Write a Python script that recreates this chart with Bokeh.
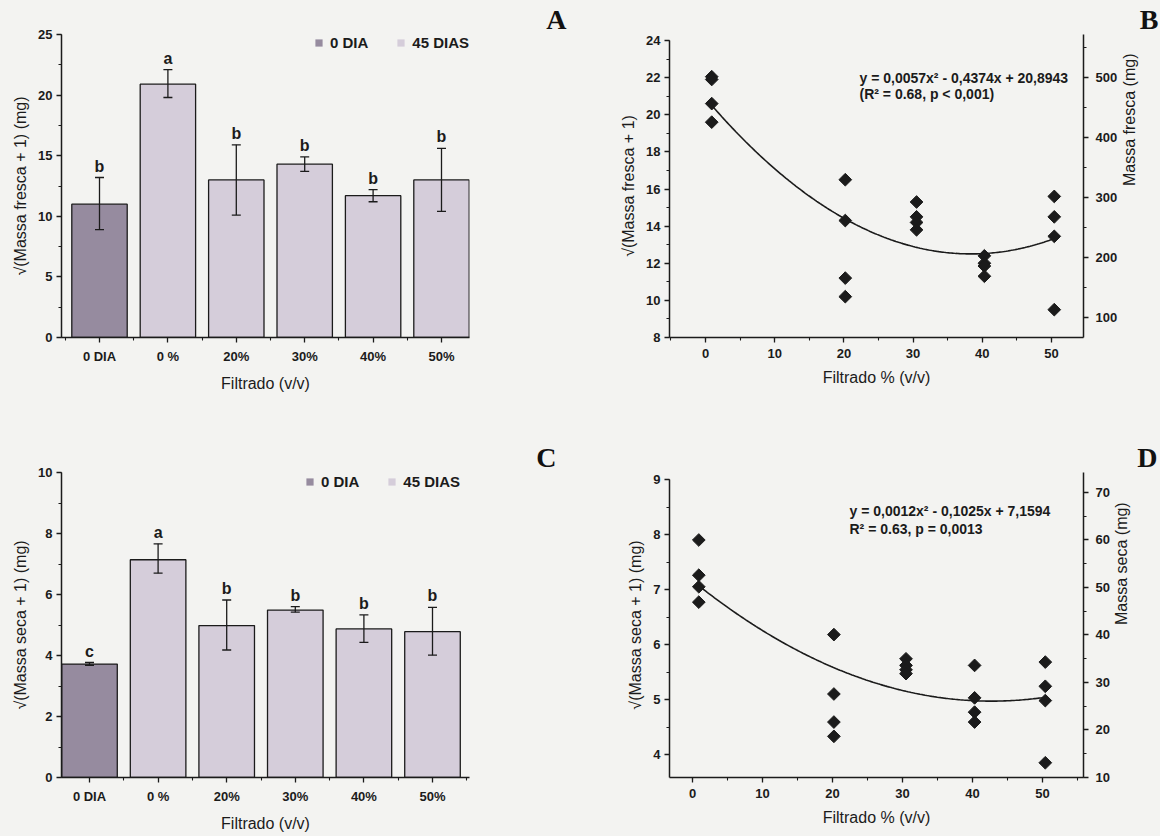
import numpy as np
from bokeh.plotting import figure
from bokeh.layouts import row, column
from bokeh.models import (ColumnDataSource, Range1d, LinearAxis, FixedTicker,
                          SingleIntervalTicker, Whisker, TeeHead, Label, Legend,
                          LegendItem, Title)
from bokeh.core.properties import value
from bokeh.embed import file_html
from bokeh.resources import INLINE

# ---------------- data ----------------
categories = ["0 DIA", "0 %", "20%", "30%", "40%", "50%"]
series_labels = ["0 DIA", "45 DIAS"]

fresh_mean = [11.0, 20.9, 13.0, 14.3, 11.7, 13.0]
fresh_lower = [8.9, 19.8, 10.1, 13.7, 11.2, 10.4]
fresh_upper = [13.2, 22.1, 15.9, 14.9, 12.2, 15.6]
fresh_letters = ["b", "a", "b", "b", "b", "b"]

dry_mean = [3.72, 7.14, 4.98, 5.49, 4.87, 4.78]
dry_lower = [3.68, 6.70, 4.18, 5.42, 4.43, 4.01]
dry_upper = [3.77, 7.66, 5.82, 5.60, 5.33, 5.58]
dry_letters = ["c", "a", "b", "b", "b", "b"]

filtrado_pct = [0.9, 20.2, 30.5, 40.3, 50.4]
fresh_reps = [[22.05, 21.9, 20.6, 19.6],
              [16.5, 14.3, 11.2, 10.2],
              [15.3, 14.5, 14.2, 13.8],
              [12.4, 12.0, 11.85, 11.3],
              [15.6, 14.5, 13.45, 9.5]]
dry_reps = [[7.9, 7.26, 7.05, 6.77],
            [6.18, 5.10, 4.59, 4.33],
            [5.74, 5.62, 5.54, 5.47],
            [5.62, 5.03, 4.77, 4.59],
            [5.68, 5.24, 4.98, 3.85]]
fresh_fit = [0.0057, -0.4374, 20.8943]
dry_fit = [0.0012, -0.1025, 7.1594]
fresh_eq = ["y = 0,0057x\u00b2 - 0,4374x + 20,8943", "(R\u00b2 = 0.68, p < 0,001)"]
dry_eq = ["y = 0,0012x\u00b2 - 0,1025x + 7,1594", "R\u00b2 = 0.63, p = 0,0013"]

# ---------------- style ----------------
FONT = "Liberation Sans"
SERIF = "Liberation Serif"
INK = "#1b1b1b"
BG = "#f3f3f1"
DARK = "#968b9f"
LIGHT = "#d5cdda"

# layout (page pixels): two columns, two rows; borders are shared per row/column
COL_W = (575, 585)
ROW_H = (420, 416)
LEFT_FRAME_X = (61, 469)
RIGHT_FRAME_X = (669, 1083)
TOP_FRAME_Y = (34, 337)
BOT_FRAME_Y = (472, 777)


def style_axis(ax, xside=False):
    ax.axis_line_color = INK
    ax.axis_line_width = 1.5
    ax.major_tick_line_color = INK
    ax.major_tick_line_width = 1.3
    ax.minor_tick_line_color = INK
    ax.minor_tick_line_width = 1.1
    ax.major_tick_out = 5
    ax.major_tick_in = 0
    ax.minor_tick_out = 3
    ax.minor_tick_in = 0
    ax.major_label_text_font = FONT
    ax.major_label_text_font_size = "13px"
    ax.major_label_text_font_style = "bold"
    ax.major_label_text_color = INK
    ax.axis_label_text_font = FONT
    ax.axis_label_text_font_size = "16px"
    ax.axis_label_text_font_style = "normal"
    ax.axis_label_text_color = INK
    ax.major_label_standoff = 6 if xside else 4
    ax.axis_label_standoff = 8 if xside else 6


def span(anchors, lo_px, hi_px):
    (v0, p0), (v1, p1) = anchors
    s = (v1 - v0) / (p1 - p0)
    return v0 + (lo_px - p0) * s, v0 + (hi_px - p0) * s


def make_fig(col, rw, xanch, yanch):
    fx = 0 if col == 0 else COL_W[0]
    fy = 0 if rw == 0 else ROW_H[0]
    w, h = COL_W[col], ROW_H[rw]
    L, R = LEFT_FRAME_X if col == 0 else RIGHT_FRAME_X
    T, B = TOP_FRAME_Y if rw == 0 else BOT_FRAME_Y
    x0, x1 = span(xanch, L, R)
    y0, y1 = span(yanch, B, T)
    p = figure(width=w, height=h, x_range=Range1d(x0, x1), y_range=Range1d(y0, y1),
               title=None, output_backend="svg", toolbar_location=None,
               min_border_left=L - fx, min_border_right=fx + w - R,
               min_border_top=T - fy, min_border_bottom=fy + h - B)
    p.background_fill_color = BG
    p.border_fill_color = BG
    p.outline_line_color = None
    p.xgrid.visible = False
    p.ygrid.visible = False
    p._frame = (L, T, R, B)
    return p


def px_to_data(p, px, py):
    L, T, R, B = p._frame
    xr, yr = p.x_range, p.y_range
    x = xr.start + (px - L) / (R - L) * (xr.end - xr.start)
    y = yr.end - (py - T) / (B - T) * (yr.end - yr.start)
    return x, y


def add_letter(p, letter, right_px):
    p.add_layout(Title(text=letter, align="right", offset=p._frame[2] - right_px,
                       standoff=0, text_font=SERIF, text_font_style="bold",
                       text_font_size="28px", text_color="#111111"), "above")


def bar_panel(means, lowers, uppers, letters, ymax, ystep, ylabel, rw, xanch, yanch,
              letter, letter_right, legend_px):
    xpos = list(range(len(categories)))
    p = make_fig(0, rw, xanch, yanch)
    p.vbar(x=xpos[:1], top=means[:1], width=0.81, fill_color=DARK,
           line_color=INK, line_width=1.3)
    p.vbar(x=xpos[1:], top=means[1:], width=0.81, fill_color=LIGHT,
           line_color=INK, line_width=1.3)
    src = ColumnDataSource(dict(x=xpos, lo=lowers, hi=uppers, lab=letters))
    wh = Whisker(source=src, base="x", upper="hi", lower="lo", line_color=INK,
                 line_width=1.3, level="overlay",
                 upper_head=TeeHead(size=9, line_color=INK, line_width=1.3),
                 lower_head=TeeHead(size=9, line_color=INK, line_width=1.3))
    p.add_layout(wh)
    p.text(x="x", y="hi", text="lab", source=src, text_align="center",
           text_baseline="bottom", y_offset=-3, text_font=value(FONT),
           text_font_style="bold", text_font_size="16px", text_color=INK)

    # legend swatches (renderers placed outside the visible x range)
    off = p.x_range.start - 5
    d0 = p.vbar(x=[off], top=[1], width=0.8, fill_color=DARK, line_color=None)
    d1 = p.vbar(x=[off], top=[1], width=0.8, fill_color=LIGHT, line_color=None)
    L, T, R, B = p._frame
    lx, ly = legend_px
    leg = Legend(items=[LegendItem(label=series_labels[0], renderers=[d0]),
                        LegendItem(label=series_labels[1], renderers=[d1])],
                 location=(lx - L, B - (ly + 8)), orientation="horizontal",
                 background_fill_alpha=0, border_line_alpha=0,
                 glyph_width=9, glyph_height=9, label_standoff=7, spacing=28,
                 padding=0, margin=0, label_height=16,
                 label_text_font=FONT, label_text_font_style="bold",
                 label_text_font_size="15px", label_text_color=INK)
    p.add_layout(leg)

    p.xaxis.ticker = FixedTicker(ticks=xpos, minor_ticks=[i + 0.5 for i in range(-1, 6)])
    p.xaxis.major_label_overrides = {i: c for i, c in enumerate(categories)}
    p.xaxis.axis_label = "Filtrado (v/v)"
    p.yaxis.ticker = SingleIntervalTicker(interval=ystep, num_minor_ticks=2)
    p.yaxis.axis_label = ylabel
    p.yaxis.bounds = (0, ymax)
    for ax in p.xaxis:
        style_axis(ax, True)
    for ax in p.yaxis:
        style_axis(ax)
    add_letter(p, letter, letter_right)
    return p


def scatter_panel(reps, fit, eq, ytop, ystep, ranch, rstep, ylabel, rlabel, rw,
                  xanch, yanch, letter, letter_right, eq_px):
    p = make_fig(1, rw, xanch, yanch)
    xs = [filtrado_pct[i] for i, g in enumerate(reps) for _ in g]
    ys = [v for g in reps for v in g]
    cx = np.linspace(filtrado_pct[0], filtrado_pct[-1], 200)
    cy = np.polyval(fit, cx)
    p.line(cx, cy, line_color=INK, line_width=1.6)
    p.scatter(xs, ys, marker="square", angle=np.pi / 4, size=9,
              fill_color=INK, line_color=INK)

    p.xaxis.ticker = SingleIntervalTicker(interval=10, num_minor_ticks=2)
    p.xaxis.axis_label = "Filtrado % (v/v)"
    p.yaxis[0].ticker = SingleIntervalTicker(interval=ystep, num_minor_ticks=2)
    p.yaxis[0].axis_label = ylabel
    p.yaxis[0].bounds = (p.y_range.start, ytop)

    # right axis calibrated against the left scale (right value, left value)
    (r0, l0), (r1, l1) = ranch
    k = (r1 - r0) / (l1 - l0)
    p.extra_y_ranges = {"right": Range1d(r0 + (p.y_range.start - l0) * k,
                                         r0 + (p.y_range.end - l0) * k)}
    rax = LinearAxis(y_range_name="right", axis_label=rlabel,
                     ticker=SingleIntervalTicker(interval=rstep, num_minor_ticks=2))
    try:
        rax.axis_label_orientation = np.pi / 2
    except Exception:
        pass
    p.add_layout(rax, "right")
    for ax in p.xaxis:
        style_axis(ax, True)
    for ax in p.yaxis:
        style_axis(ax)
    rax.major_label_standoff = 7
    rax.axis_label_standoff = 9

    ex, ey1, ey2 = eq_px
    for line_txt, py in zip(eq, (ey1, ey2)):
        x, y = px_to_data(p, ex, py)
        p.add_layout(Label(x=x, y=y, text=line_txt, text_font=FONT,
                           text_font_style="bold", text_font_size="14px",
                           text_color=INK, text_baseline="middle", text_align="left"))
    add_letter(p, letter, letter_right)
    return p


pA = bar_panel(fresh_mean, fresh_lower, fresh_upper, fresh_letters, 25, 5,
               "\u221a(Massa fresca + 1) (mg)", 0, ((0, 99), (5, 441)),
               ((0, 337), (25, 34)), "A", 566, (314, 43))
pB = scatter_panel(fresh_reps, fresh_fit, fresh_eq, 24, 2, ((500, 22.0), (100, 9.09)), 100,
                   "\u221a(Massa fresca + 1)", "Massa fresca (mg)", 0,
                   ((0, 705), (50, 1051)), ((8, 337), (24, 40)), "B", 1158, (859, 77, 93))
pC = bar_panel(dry_mean, dry_lower, dry_upper, dry_letters, 10, 2,
               "\u221a(Massa seca + 1) (mg)", 1, ((0, 89), (5, 432)),
               ((0, 777), (10, 472)), "C", 556, (305, 482))
pD = scatter_panel(dry_reps, dry_fit, dry_eq, 9, 1, ((70, 8.764), (10, 3.585)), 10,
                   "\u221a(Massa seca + 1) (mg)", "Massa seca (mg)", 1,
                   ((0, 692), (50, 1042)), ((4, 754), (9, 479)), "D", 1157, (849, 510, 528))

layout = column(row(pA, pB), row(pC, pD), styles={"background-color": BG})
open("out.html", "w").write(file_html(layout, INLINE))
